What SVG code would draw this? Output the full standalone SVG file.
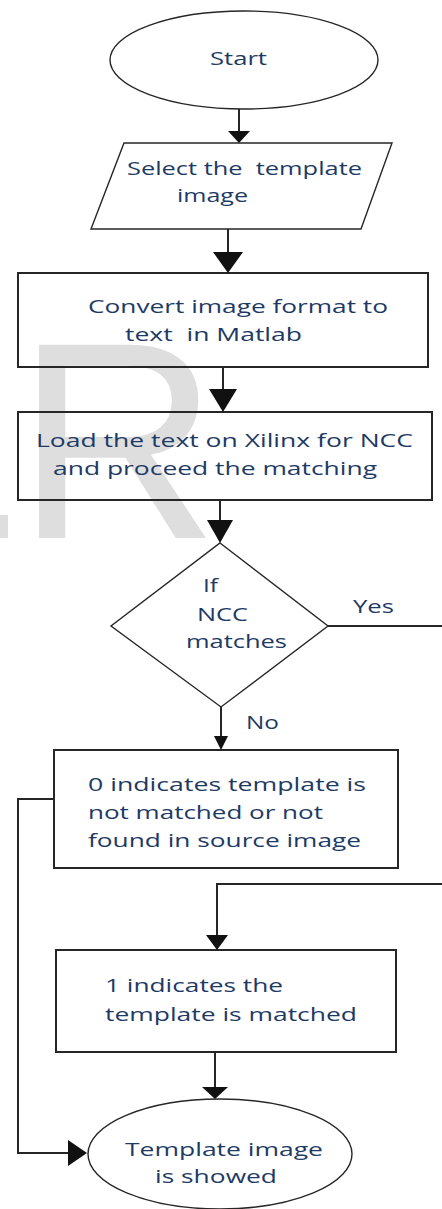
<svg xmlns="http://www.w3.org/2000/svg" width="442" height="1209" viewBox="0 0 442 1209">
<style>
  .bg{fill:#ffffff}
  .wm{fill:#dedede;font-family:"Liberation Sans",Arial,sans-serif}
  .shape{fill:none;stroke:#262626;stroke-width:2}
  .thin{fill:none;stroke:#262626;stroke-width:1.4}
  .line{fill:none;stroke:#262626;stroke-width:2}
  .ah{fill:#111111;stroke:none}
  .t{font-family:"Open Sans","Noto Sans","Liberation Sans",sans-serif;font-size:19px;fill:#1e3a64;white-space:pre}
</style>
<rect class="bg" x="0" y="0" width="442" height="1209"/>
<g id="watermark">
  <text class="wm" x="16" y="538" font-size="281">R</text>
  <rect x="0" y="515" width="8" height="23" fill="#dedede"/>
</g>
<g id="start">
  <ellipse class="thin" cx="244" cy="60" rx="134" ry="49"/>
  <text class="t" x="210" y="65" textLength="57" lengthAdjust="spacingAndGlyphs">Start</text>
</g>
<g id="select">
  <polygon class="thin" points="124,143 392,143 361,229 91,229"/>
  <text class="t" x="127" y="175" textLength="235" lengthAdjust="spacingAndGlyphs">Select the  template</text>
  <text class="t" x="177" y="202" textLength="71" lengthAdjust="spacingAndGlyphs">image</text>
</g>
<g id="convert">
  <rect class="shape" x="18" y="273" width="410" height="94"/>
  <text class="t" x="88" y="313" textLength="300" lengthAdjust="spacingAndGlyphs">Convert image format to</text>
  <text class="t" x="125" y="341" textLength="177" lengthAdjust="spacingAndGlyphs">text  in Matlab</text>
</g>
<g id="load">
  <rect class="shape" x="18" y="412" width="414" height="88"/>
  <text class="t" x="36" y="447" textLength="377" lengthAdjust="spacingAndGlyphs">Load the text on Xilinx for NCC</text>
  <text class="t" x="53" y="475" textLength="324" lengthAdjust="spacingAndGlyphs">and proceed the matching</text>
</g>
<g id="decision">
  <polygon class="thin" points="220,543 328,626 221,707 111,626"/>
  <text class="t" x="203" y="592" textLength="15" lengthAdjust="spacingAndGlyphs">If</text>
  <text class="t" x="197" y="621" textLength="51" lengthAdjust="spacingAndGlyphs">NCC</text>
  <text class="t" x="186" y="648" textLength="101" lengthAdjust="spacingAndGlyphs">matches</text>
</g>
<g id="notfound">
  <rect class="shape" x="54" y="750" width="344" height="118"/>
  <text class="t" x="88" y="791" textLength="278" lengthAdjust="spacingAndGlyphs">0 indicates template is</text>
  <text class="t" x="88" y="819" textLength="235" lengthAdjust="spacingAndGlyphs">not matched or not</text>
  <text class="t" x="88" y="847" textLength="273" lengthAdjust="spacingAndGlyphs">found in source image</text>
</g>
<g id="matched">
  <rect class="shape" x="56" y="950" width="340" height="102"/>
  <text class="t" x="105" y="992" textLength="178" lengthAdjust="spacingAndGlyphs">1 indicates the</text>
  <text class="t" x="105" y="1021" textLength="252" lengthAdjust="spacingAndGlyphs">template is matched</text>
</g>
<g id="showed">
  <ellipse class="thin" cx="220" cy="1154" rx="132" ry="55"/>
  <text class="t" x="125" y="1156" textLength="198" lengthAdjust="spacingAndGlyphs">Template image</text>
  <text class="t" x="155" y="1183" textLength="122" lengthAdjust="spacingAndGlyphs">is showed</text>
</g>
<g id="connectors">
  <line class="line" x1="239" y1="109" x2="239" y2="132"/>
  <polygon class="ah" points="228,131 250,131 239,143"/>
  <line class="line" x1="228" y1="229" x2="228" y2="253"/>
  <polygon class="ah" points="213,252 243,252 228,273"/>
  <line class="line" x1="223" y1="367" x2="223" y2="390"/>
  <polygon class="ah" points="209,389 237,389 223,412"/>
  <line class="line" x1="220" y1="500" x2="220" y2="521"/>
  <polygon class="ah" points="207,520 233,520 220,543"/>
  <line class="line" x1="221" y1="707" x2="221" y2="737"/>
  <polygon class="ah" points="214,736 228,736 221,750"/>
  <polyline class="line" points="328,626 442,626"/>
  <polyline class="line" points="442,884 217,884 217,936"/>
  <polygon class="ah" points="206,935 228,935 217,950"/>
  <polyline class="line" points="54,799 18,799 18,1153 69,1153"/>
  <polygon class="ah" points="68,1140 68,1166 87,1153"/>
  <line class="line" x1="215" y1="1052" x2="215" y2="1088"/>
  <polygon class="ah" points="202,1087 228,1087 215,1099"/>
  <text class="t" x="353" y="613" textLength="41" lengthAdjust="spacingAndGlyphs">Yes</text>
  <text class="t" x="246" y="729" textLength="33" lengthAdjust="spacingAndGlyphs">No</text>
</g>
</svg>
